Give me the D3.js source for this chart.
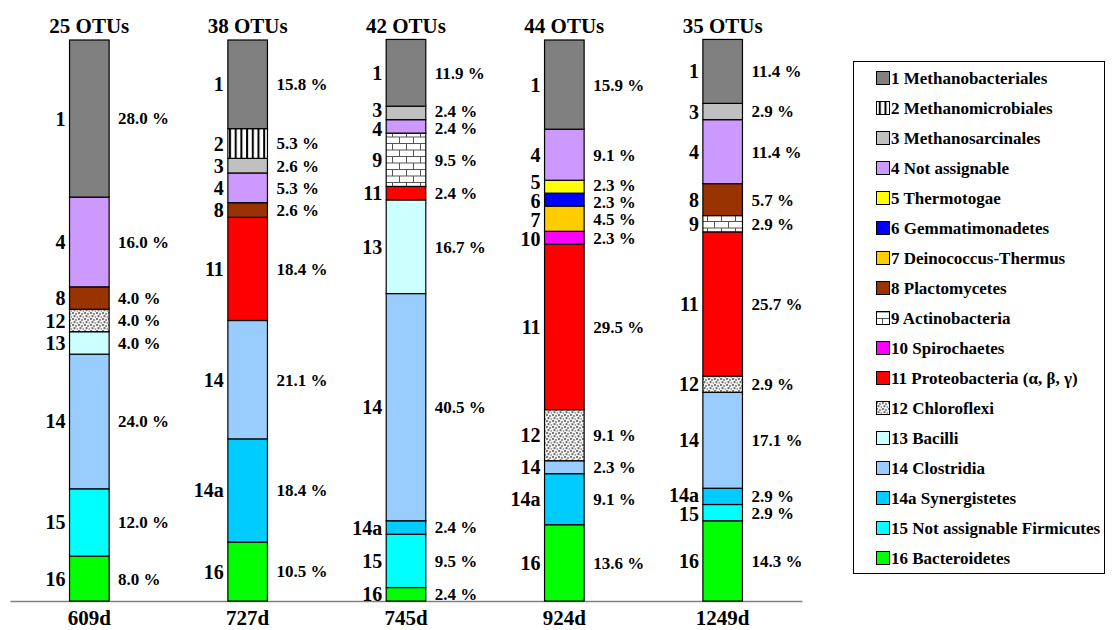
<!DOCTYPE html>
<html>
<head>
<meta charset="utf-8">
<script src="https://cdn.jsdelivr.net/npm/d3@7"></script>
<style>
  body { margin: 0; background: #fff; }
  text { font-family: "Liberation Serif", "Times New Roman", serif; font-weight: bold; fill: #000; }
</style>
</head>
<body>
<div id="chart-area"></div>
<script>
/* Community composition (% of OTUs) per sampling day */

var samples = ["609d", "727d", "745d", "924d", "1249d"];
var otuCounts = [25, 38, 42, 44, 35];

var taxa = ["1", "2", "3", "4", "5", "6", "7", "8", "9", "10", "11", "12", "13", "14", "14a", "15", "16"];
var taxonNames = ["Methanobacteriales", "Methanomicrobiales", "Methanosarcinales", "Not assignable",
    "Thermotogae", "Gemmatimonadetes", "Deinococcus-Thermus", "Plactomycetes", "Actinobacteria",
    "Spirochaetes", "Proteobacteria (\u03b1, \u03b2, \u03b3)", "Chloroflexi", "Bacilli", "Clostridia",
    "Synergistetes", "Not assignable Firmicutes", "Bacteroidetes"];

// percentages, same order as taxa (0 = not found)
var pct609d  = [28.0, 0,   0,   16.0, 0,   0,   0,   4.0, 0,   0,   0,    4.0, 4.0,  24.0, 0,    12.0, 8.0];
var pct727d  = [15.8, 5.3, 2.6, 5.3,  0,   0,   0,   2.6, 0,   0,   18.4, 0,   0,    21.1, 18.4, 0,    10.5];
var pct745d  = [11.9, 0,   2.4, 2.4,  0,   0,   0,   0,   9.5, 0,   2.4,  0,   16.7, 40.5, 2.4,  9.5,  2.4];
var pct924d  = [15.9, 0,   0,   9.1,  2.3, 2.3, 4.5, 0,   0,   2.3, 29.5, 9.1, 0,    2.3,  9.1,  0,    13.6];
var pct1249d = [11.4, 0,   2.9, 11.4, 0,   0,   0,   5.7, 2.9, 0,   25.7, 2.9, 0,    17.1, 2.9,  2.9,  14.3];

var allPct = [pct609d, pct727d, pct745d, pct924d, pct1249d];

var fills = {
    "1": "#808080", "2": "url(#pat-stripes)", "3": "#c0c0c0", "4": "#cc99ff", "5": "#ffff00",
    "6": "#0000ff", "7": "#ffcc00", "8": "#993300", "9": "url(#pat-brick)", "10": "#ff00ff",
    "11": "#ff0000", "12": "url(#pat-dots)", "13": "#ccffff", "14": "#99ccff", "14a": "#00ccff",
    "15": "#00ffff", "16": "#00ff00"
};

var W = 1112, H = 630;

var svg = d3.select("#chart-area")
    .append("svg")
    .attr("width", W)
    .attr("height", H);

/* Patterns for the hatched taxa */
var defs = svg.append("defs");

var pStripes = defs.append("pattern")
    .attr("id", "pat-stripes")
    .attr("patternUnits", "userSpaceOnUse")
    .attr("width", 5.7).attr("height", 10);
pStripes.append("rect").attr("width", 5.7).attr("height", 10).attr("fill", "#fff");
pStripes.append("rect").attr("x", 1).attr("width", 2).attr("height", 10).attr("fill", "#000");

var pBrick = defs.append("pattern")
    .attr("id", "pat-brick")
    .attr("patternUnits", "userSpaceOnUse")
    .attr("width", 14).attr("height", 13);
pBrick.append("rect").attr("width", 14).attr("height", 13).attr("fill", "#fff");
pBrick.append("path")
    .attr("d", "M0,0.5H14M0,7H14M0.5,0.5V7M7.5,7V13")
    .attr("stroke", "#555").attr("stroke-width", 1).attr("fill", "none");

var pDots = defs.append("pattern")
    .attr("id", "pat-dots")
    .attr("patternUnits", "userSpaceOnUse")
    .attr("width", 6).attr("height", 6);
pDots.append("rect").attr("width", 6).attr("height", 6).attr("fill", "#f2f2f2");
[[1, 1, 1.1], [4, 2, 0.9], [2.5, 4.2, 1.1], [5.3, 5, 0.7]].forEach(function(c) {
    pDots.append("circle").attr("cx", c[0]).attr("cy", c[1]).attr("r", c[2]).attr("fill", "#6e6e6e");
});

/* Scales */
var x = d3.scaleBand()
    .domain(samples)
    .range([10, 802])
    .paddingInner(0.75)
    .paddingOuter(0.376);

var y = d3.scaleLinear()
    .domain([0, 100])
    .range([601, 40]);

/* Stack rows, taxon 16 at the bottom, 1 at the top */
var rows = samples.map(function(s, i) {
    var r = { sample: s };
    taxa.forEach(function(t, j) { r[t] = allPct[i][j]; });
    return r;
});

var stack = d3.stack().keys(taxa.slice().reverse());
var series = stack(rows);

// flatten to one record per visible segment
var segs = [];
series.forEach(function(s) {
    s.forEach(function(d) {
        if (d[1] - d[0] > 0) {
            segs.push({ taxon: s.key, sample: d.data.sample, y0: d[0], y1: d[1], value: d.data[s.key] });
        }
    });
});

// X axis (baseline + day labels)
var xAxis = svg.append("g")
    .attr("transform", "translate(0,601)")
    .call(d3.axisBottom(x).tickSize(0));
xAxis.select(".domain").attr("stroke", "#808080").attr("stroke-width", 1.5);
xAxis.selectAll("text")
    .attr("y", 24).attr("dy", 0)
    .style("font-family", "'Liberation Serif', serif")
    .style("font-weight", "bold")
    .style("font-size", "21px")
    .attr("fill", "#000");

// Segments
svg.append("g").selectAll("rect")
    .data(segs)
    .enter()
    .append("rect")
        .attr("x", function(d) { return x(d.sample); })
        .attr("y", function(d) { return y(d.y1); })
        .attr("width", x.bandwidth())
        .attr("height", function(d) { return y(d.y0) - y(d.y1); })
        .attr("fill", function(d) { return fills[d.taxon]; })
        .attr("stroke", "#000")
        .attr("stroke-width", 1.2);

// OTU count titles
svg.append("g").selectAll("text")
    .data(samples)
    .enter()
    .append("text")
        .attr("x", function(d) { return x(d) + x.bandwidth() / 2; })
        .attr("y", 33)
        .attr("text-anchor", "middle")
        .attr("font-size", "21px")
        .text(function(d, i) { return otuCounts[i] + " OTUs"; });

/* push labels apart so they do not overlap */
function declutter(items, gap) {
    items.sort(function(a, b) { return a.ly - b.ly; });
    for (var k = 0; k < 60; k++) {
        for (var i = 1; i < items.length; i++) {
            var d = items[i].ly - items[i - 1].ly;
            if (d < gap) {
                var sh = (gap - d) / 2;
                items[i - 1].ly -= sh;
                items[i].ly += sh;
            }
        }
    }
}

var leftLabels = [], rightLabels = [];
samples.forEach(function(s) {
    var these = segs.filter(function(d) { return d.sample === s; });
    var L = these.map(function(d) { return { d: d, ly: (y(d.y0) + y(d.y1)) / 2 }; });
    var R = these.map(function(d) { return { d: d, ly: (y(d.y0) + y(d.y1)) / 2 }; });
    declutter(L, 19);
    declutter(R, 17);
    leftLabels = leftLabels.concat(L);
    rightLabels = rightLabels.concat(R);
});

// taxon numbers on the left of each bar
svg.append("g").selectAll("text")
    .data(leftLabels)
    .enter()
    .append("text")
        .attr("x", function(d) { return x(d.d.sample) - 4; })
        .attr("y", function(d) { return d.ly; })
        .attr("dy", "0.35em")
        .attr("text-anchor", "end")
        .attr("font-size", "20px")
        .text(function(d) { return d.d.taxon; });

// percentages on the right
svg.append("g").selectAll("text")
    .data(rightLabels)
    .enter()
    .append("text")
        .attr("x", function(d) { return x(d.d.sample) + x.bandwidth() + 9; })
        .attr("y", function(d) { return d.ly; })
        .attr("dy", "0.35em")
        .attr("font-size", "17px")
        .text(function(d) { return d.d.value.toFixed(1) + " %"; });

/* Legend */
var legend = svg.append("g");
legend.append("rect")
    .attr("x", 853.5).attr("y", 61.5)
    .attr("width", 251).attr("height", 512)
    .attr("fill", "none")
    .attr("stroke", "#000")
    .attr("stroke-width", 1);

var items = legend.selectAll("g.item")
    .data(taxa)
    .enter()
    .append("g")
        .attr("class", "item")
        .attr("transform", function(d, i) { return "translate(0," + (78 + i * 30) + ")"; });

items.append("rect")
    .attr("x", 876.5).attr("y", -6.5)
    .attr("width", 13).attr("height", 13)
    .attr("fill", function(d) { return fills[d]; })
    .attr("stroke", "#000")
    .attr("stroke-width", 1);

items.append("text")
    .attr("x", 891)
    .attr("y", 6)
    .attr("font-size", "17px")
    .text(function(d, i) { return d + " " + taxonNames[i]; });
</script>
</body>
</html>
